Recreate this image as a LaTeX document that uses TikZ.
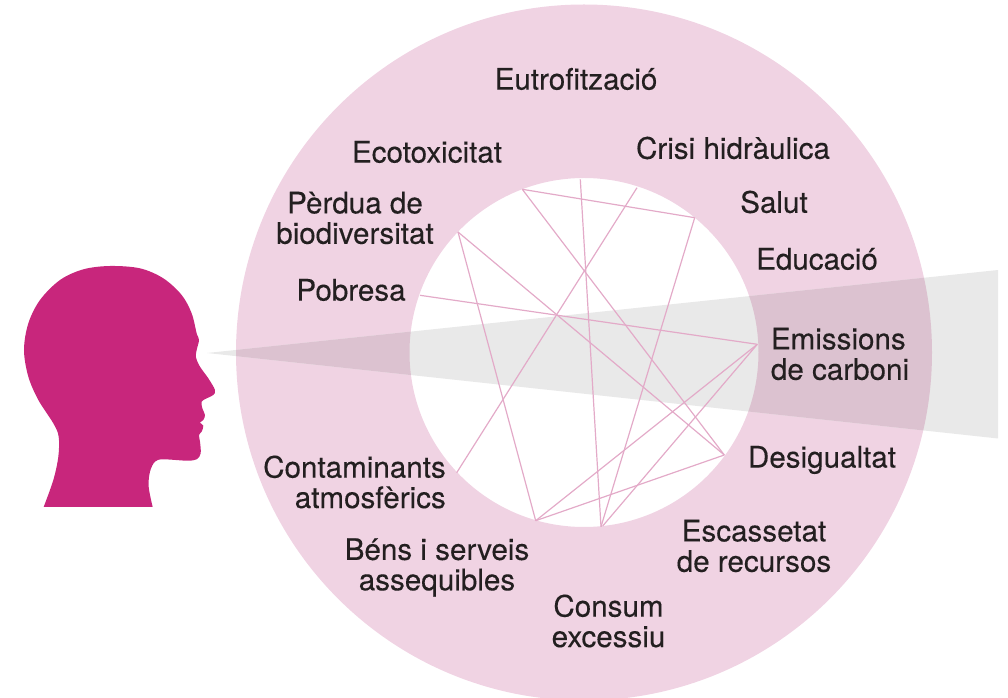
\documentclass[tikz,border=0pt]{standalone}
\usepackage{fontspec}
\setmainfont{TeX Gyre Heros}
\newfontfamily\lblfont[FakeBold=0.25]{TeX Gyre Heros}
\definecolor{ringpink}{HTML}{F0D3E3}
\definecolor{beamgray}{HTML}{E9E9E9}
\definecolor{overlap}{HTML}{DCC2D0}
\definecolor{headpink}{HTML}{C8267C}
\definecolor{linkpink}{HTML}{E3AAC8}
\definecolor{labelink}{HTML}{231F20}
\tikzset{
  lbl/.style={text=labelink,font=\lblfont\fontsize{22.2}{22.8}\selectfont,align=center,inner sep=0pt},
  link/.style={draw=linkpink,line width=0.9pt}
}
\begin{document}
\begin{tikzpicture}[x=0.75pt,y=-0.75pt]
\useasboundingbox (0,0) rectangle (1008,698);
\coordinate (c) at (584,352.5);
% ring
\fill[ringpink,even odd rule] (c) circle [radius=348] (c) circle [radius=174.5];
% beam
\fill[beamgray] (207,353) -- (998,270) -- (998,438.5) -- cycle;
\begin{scope}
  \clip (207,353) -- (998,270) -- (998,438.5) -- cycle;
  \fill[overlap,even odd rule] (c) circle [radius=348] (c) circle [radius=174.5];
\end{scope}
% head
\begin{scope}[shift={(0,250)},xscale=1/3,yscale=1/3]
\fill[headpink] (131,771) -- plot[smooth,tension=0.55] coordinates {
 (131,771) (160,690) (175,620) (176,560) (160,520) (115,450) (85,380) (72,300)
 (85,220) (120,150) (180,90) (250,58) (330,48) (420,55) (490,85) (545,135)
 (575,190) (590,250) (597,270) (590,300) (588,322) (600,350) (625,385) (645,420)
 (640,435) (620,445) (605,455) (607,475) (615,495) (610,510) (600,518) (610,527)
 (605,545) (597,555) (600,575) (602,610) (590,628) (560,632) (490,628) (465,635)
 (450,665) (446,710) (458,771)} -- cycle;
\end{scope}
% anchor points
\coordinate (pa) at (522.3,189.3);
\coordinate (pb) at (580.3,179.3);
\coordinate (pc) at (637,187.7);
\coordinate (pd) at (694.7,217.7);
\coordinate (pe) at (458,232);
\coordinate (pf) at (420,295.3);
\coordinate (pg) at (757.3,344.3);
\coordinate (ph) at (724.3,455);
\coordinate (pi) at (601,526.7);
\coordinate (pj) at (602.7,526);
\coordinate (pk) at (535.7,520.7);
\coordinate (pl) at (456.7,472.7);
\draw[link] (pa) -- (pd);
\draw[link] (pa) -- (ph);
\draw[link] (pb) -- (pi);
\draw[link] (pc) -- (pl);
\draw[link] (pd) -- (pi);
\draw[link] (pe) -- (pk);
\draw[link] (pe) -- (ph);
\draw[link] (pf) -- (pg);
\draw[link] (pg) -- (pk);
\draw[link] (pg) -- (pj);
\draw[link] (ph) -- (pk);
% labels
\node[lbl] (n1) at (576,79) {Eutrofització};
\node[lbl] (n2) at (427,152) {Ecotoxicitat};
\node[lbl] (n3) at (733,148) {Crisi hidràulica};
\node[lbl] (n4) at (774,202) {Salut};
\node[lbl] (n5) at (355,218) {Pèrdua de\\biodiversitat};
\node[lbl] (n6) at (817,259) {Educació};
\node[lbl] (n7) at (351,290) {Pobresa};
\node[lbl,align=left] (n8) at (840,354) {Emissions\\de carboni};
\node[lbl] (n9) at (822,460) {Desigualtat};
\node[lbl,align=right] (n10) at (354.5,482) {Contaminants\\atmosfèrics};
\node[lbl] (n11) at (437,567.5) {Béns i serveis\\assequibles};
\node[lbl] (n12) at (754,546) {Escassetat\\de recursos};
\node[lbl] (n13) at (608.5,621) {Consum\\excessiu};
\end{tikzpicture}
\end{document}
